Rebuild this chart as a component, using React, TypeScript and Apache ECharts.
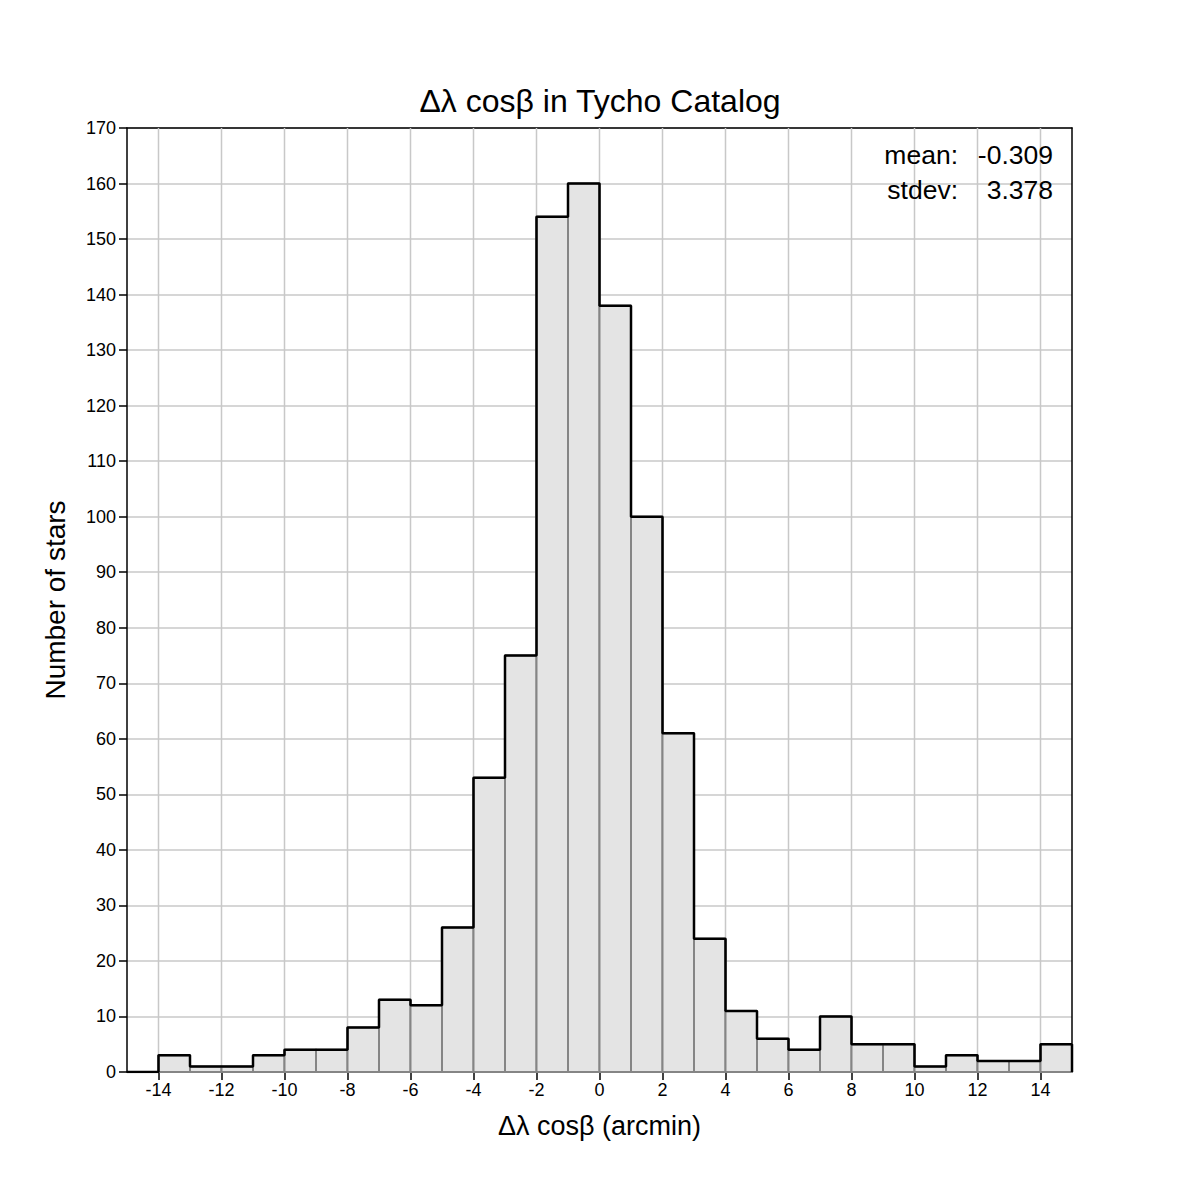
import React, { useEffect, useRef } from "react";
import * as echarts from "echarts";

const binEdges = [-15, -14, -13, -12, -11, -10, -9, -8, -7, -6, -5, -4, -3, -2, -1, 0, 1, 2, 3, 4, 5, 6, 7, 8, 9, 10, 11, 12, 13, 14, 15];
const counts = [0, 3, 1, 1, 3, 4, 4, 8, 13, 12, 26, 53, 75, 154, 160, 138, 100, 61, 24, 11, 6, 4, 10, 5, 5, 1, 3, 2, 2, 5];
const xTicks = [-14, -12, -10, -8, -6, -4, -2, 0, 2, 4, 6, 8, 10, 12, 14];
const statLabels = ["mean:", "stdev:"];
const statValues = ["-0.309", "3.378"];

const FONT = "Liberation Sans, Arial, Helvetica, sans-serif";

export default function App() {
  const ref = useRef<HTMLDivElement>(null);
  useEffect(() => {
    if (!ref.current) return;
    const chart = echarts.init(ref.current, null, { renderer: "svg" });
    const barData = counts.map((c, i) => [binEdges[i], binEdges[i + 1], c]);
    const stepData: number[][] = counts.map((c, i) => [binEdges[i], c]);
    stepData.push([binEdges[binEdges.length - 1], 0]);

    chart.setOption({
      animation: false,
      backgroundColor: "#ffffff",
      textStyle: { fontFamily: FONT },
      title: {
        text: "Δλ cosβ in Tycho Catalog",
        left: "center",
        top: 80,
        textStyle: { fontSize: 32, fontWeight: "normal", color: "#000", fontFamily: FONT },
      },
      grid: {
        left: 127,
        right: 128,
        top: 128,
        bottom: 128,
      },
      xAxis: [
        {
          type: "value",
          min: -15,
          max: 15,
          interval: 1,
          name: "Δλ cosβ (arcmin)",
          nameLocation: "middle",
          nameGap: 40,
          nameTextStyle: { fontSize: 27, color: "#000", fontFamily: FONT },
          axisLine: { show: true, onZero: false, lineStyle: { color: "#000", width: 1.5 } },
          axisTick: { show: true, length: 8, customValues: xTicks, lineStyle: { color: "#000", width: 1.5 } },
          axisLabel: {
            customValues: xTicks,
            fontSize: 18,
            color: "#000",
            margin: 9,
            fontFamily: FONT,
          },
          splitLine: { show: false },
        },
        {
          type: "value",
          position: "top",
          min: -15,
          max: 15,
          axisLine: { show: true, onZero: false, lineStyle: { color: "#000", width: 1.5 } },
          axisTick: { show: false },
          axisLabel: { show: false },
          splitLine: { show: false },
        },
      ],
      yAxis: [
        {
          type: "value",
          min: 0,
          max: 170,
          interval: 10,
          name: "Number of stars",
          nameLocation: "middle",
          nameGap: 58,
          nameTextStyle: { fontSize: 28, color: "#000", fontFamily: FONT },
          axisLine: { show: true, onZero: false, lineStyle: { color: "#000", width: 1.5 } },
          axisTick: { show: true, length: 8, lineStyle: { color: "#000", width: 1.5 } },
          axisLabel: { fontSize: 18, color: "#000", margin: 11, fontFamily: FONT },
          splitLine: { show: true, lineStyle: { color: "#c8c8c8", width: 1.5 } },
        },
        {
          type: "value",
          position: "right",
          min: 0,
          max: 170,
          axisLine: { show: true, onZero: false, lineStyle: { color: "#000", width: 1.5 } },
          axisTick: { show: false },
          axisLabel: { show: false },
          splitLine: { show: false },
        },
      ],
      series: [
        {
          type: "custom",
          z: 1,
          silent: true,
          data: xTicks.map((t) => [t]),
          encode: { x: 0 },
          renderItem: (params: any, api: any) => {
            const t = api.value(0);
            const top = api.coord([t, 170]);
            const bot = api.coord([t, 0]);
            return {
              type: "line",
              shape: { x1: top[0], y1: top[1], x2: bot[0], y2: bot[1] },
              style: { stroke: "#c8c8c8", lineWidth: 1.5 },
            };
          },
        },
        {
          type: "custom",
          z: 2,
          data: barData,
          encode: { x: [0, 1], y: 2 },
          renderItem: (params: any, api: any) => {
            const x0 = api.value(0);
            const x1 = api.value(1);
            const v = api.value(2);
            const p0 = api.coord([x0, v]);
            const p1 = api.coord([x1, 0]);
            return {
              type: "rect",
              shape: { x: p0[0], y: p0[1], width: p1[0] - p0[0], height: p1[1] - p0[1] },
              style: { fill: "#e4e4e4", stroke: "#858585", lineWidth: 2 },
            };
          },
        },
        {
          type: "line",
          z: 3,
          data: stepData,
          step: "end",
          symbol: "none",
          lineStyle: { color: "#000", width: 2.5 },
        },
      ],
      graphic: [
        ...statLabels.map((s, i) => ({
          type: "text",
          right: 1200 - 958,
          top: 141 + i * 35,
          z: 10,
          style: { text: s, fontSize: 26.5, fill: "#000", fontFamily: FONT, textAlign: "right" },
        })),
        ...statValues.map((s, i) => ({
          type: "text",
          right: 1200 - 1053,
          top: 141 + i * 35,
          z: 10,
          style: { text: s, fontSize: 26.5, fill: "#000", fontFamily: FONT, textAlign: "right" },
        })),
      ],
    });
    return () => chart.dispose();
  }, []);
  return <div ref={ref} style={{ width: 1200, height: 1200, margin: -8 }} />;
}
